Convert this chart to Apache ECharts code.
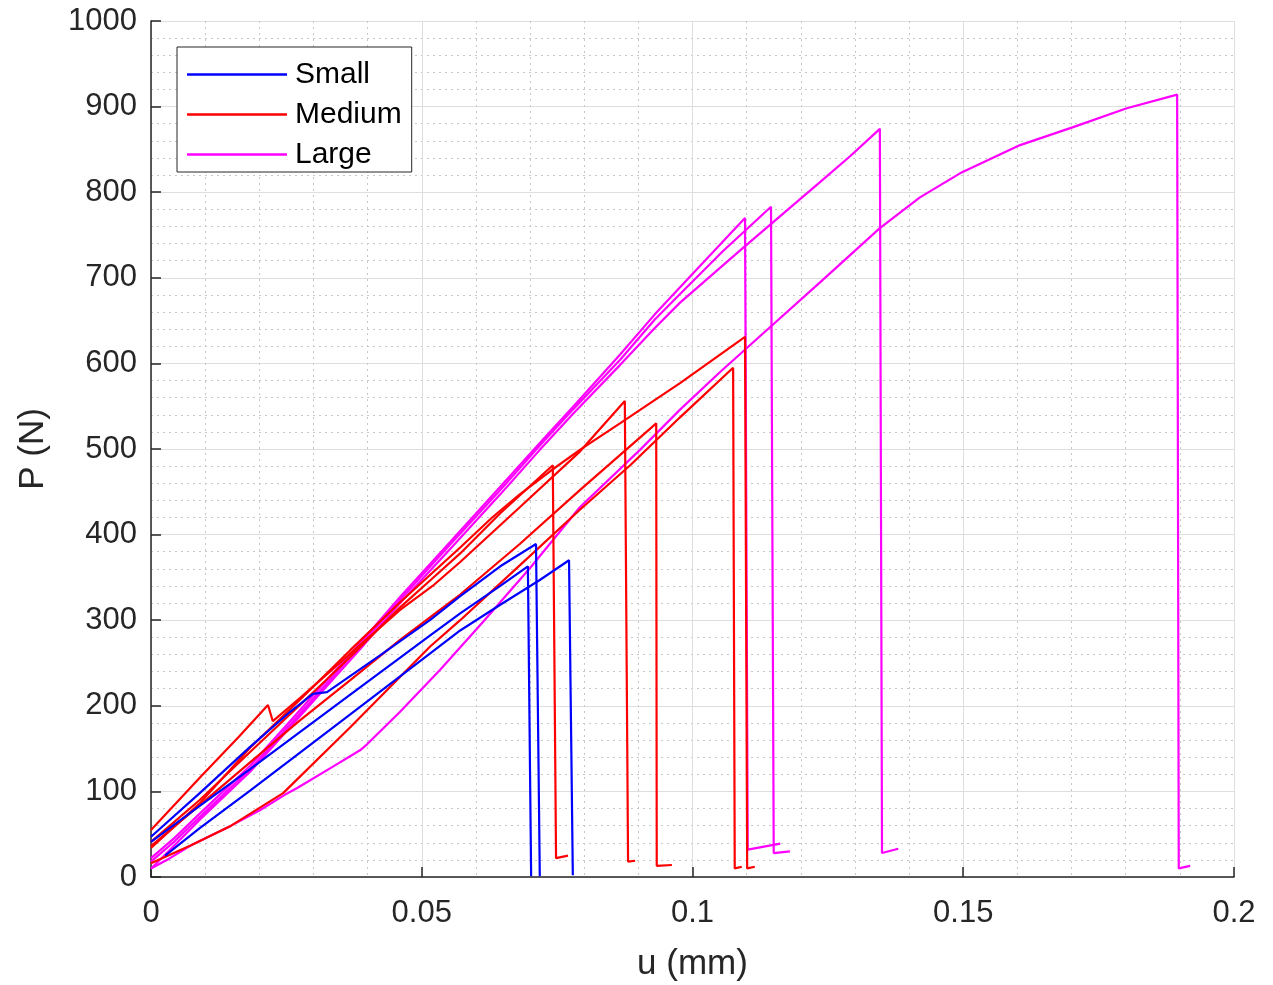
<!DOCTYPE html>
<html>
<head>
<meta charset="utf-8">
<title>P-u curves</title>
<script src="https://cdn.jsdelivr.net/npm/echarts@6/dist/echarts.min.js"></script>
<style>
  html, body { margin: 0; padding: 0; background: #ffffff; }
  #chart { width: 1273px; height: 985px; }
</style>
</head>
<body>
<div id="chart"></div>
<script>
// Load-displacement curves, u (mm) vs P (N), grouped by specimen size.
const groupNames = ['Small', 'Medium', 'Large'];
const groupColors = ['#0000ff', '#ff0000', '#ff00ff'];
const xTickLabels = ['0', '0.05', '0.1', '0.15', '0.2'];
const yTickLabels = ['0', '100', '200', '300', '400', '500', '600', '700', '800', '900', '1000'];

// Small specimens
const small1 = [[0,41],[0.0090,83],[0.0183,126],[0.0368,213],[0.0515,282],[0.0571,308],[0.0645,340],[0.0696,363],[0.0702,1]];
const small2 = [[0,47],[0.0090,98],[0.0183,152],[0.0257,193],[0.0299,214],[0.0325,216],[0.0423,259],[0.0515,300],[0.0571,328],[0.0645,363],[0.0711,389],[0.0718,1]];
const small3 = [[0.0026,25],[0.0090,57],[0.0183,101],[0.0368,190],[0.0515,261],[0.0571,288],[0.0645,318],[0.0718,347],[0.0772,370],[0.0779,2]];

// Medium specimens
const medium1 = [[0,41],[0.0090,90],[0.0183,146],[0.0275,201],[0.0368,257],[0.0460,315],[0.0520,349],[0.0571,378],[0.0645,425],[0.0742,481],[0.0748,22],[0.0770,25]];
const medium2 = [[0,55],[0.0090,116],[0.0164,165],[0.0216,201],[0.0225,182],[0.0275,209],[0.0368,261],[0.0460,312],[0.0520,340],[0.0571,368],[0.0681,432],[0.0792,497],[0.0875,556],[0.0881,18],[0.0894,19]];
const medium3 = [[0,36],[0.0090,84],[0.0183,134],[0.0275,183],[0.0368,230],[0.0460,277],[0.0571,330],[0.0681,389],[0.0792,452],[0.0933,530],[0.0934,13],[0.0962,14]];
const medium4 = [[0,16],[0.0074,37],[0.0148,60],[0.0244,98],[0.0368,175],[0.0515,269],[0.0571,300],[0.0681,364],[0.0792,429],[0.0885,481],[0.0977,537],[0.1075,595],[0.1078,10],[0.1091,12]];
const medium5 = [[0,34],[0.0090,86],[0.0183,151],[0.0275,207],[0.0368,265],[0.0460,321],[0.0571,385],[0.0630,420],[0.0681,447],[0.0737,474],[0.0792,499],[0.0866,530],[0.0977,577],[0.1097,631],[0.1101,10],[0.1115,12]];

// Large specimens
const large1 = [[0,22],[0.0044,46],[0.0090,74],[0.0183,130],[0.0244,173],[0.0312,221],[0.0386,273],[0.0460,327],[0.0552,391],[0.0645,456],[0.0718,507],[0.0779,549],[0.0866,610],[0.0930,657],[0.0977,689],[0.1038,730],[0.1097,770],[0.1102,32],[0.1162,39]];
const large2 = [[0,18],[0.0044,42],[0.0090,70],[0.0183,126],[0.0244,169],[0.0312,217],[0.0386,270],[0.0460,324],[0.0552,388],[0.0645,452],[0.0718,504],[0.0779,546],[0.0866,604],[0.0930,651],[0.0977,681],[0.1056,731],[0.1145,783],[0.1150,28],[0.1180,30]];
const large3 = [[0,10],[0.0026,26],[0.0090,67],[0.0183,123],[0.0244,166],[0.0312,214],[0.0386,266],[0.0460,320],[0.0552,383],[0.0645,447],[0.0718,499],[0.0779,541],[0.0866,598],[0.0930,641],[0.0977,671],[0.1088,732],[0.1162,772],[0.1236,812],[0.1291,842],[0.1346,874],[0.1350,28],[0.1380,33]];
const large4 = [[0,10],[0.0035,22],[0.0074,37],[0.0148,60],[0.0201,78],[0.0247,96],[0.0270,104],[0.0336,129],[0.0386,148],[0.0399,155],[0.0460,193],[0.0534,242],[0.0613,298],[0.0700,361],[0.0792,432],[0.0903,499],[0.0977,546],[0.1051,590],[0.1125,632],[0.1236,695],[0.1346,758],[0.1420,794],[0.1494,822],[0.1605,855],[0.1703,876],[0.1802,898],[0.1895,914],[0.1898,10],[0.1919,13]];

const groups = [
  [small1, small2, small3],
  [medium1, medium2, medium3, medium4, medium5],
  [large1, large2, large3, large4]
];

const font = "'Liberation Sans', Arial, Helvetica, sans-serif";
const axisColor = '#262626';

// Large drawn first so the smaller specimens sit on top
const series = [];
[2, 1, 0].forEach(function (g) {
  groups[g].forEach(function (d) {
    series.push({
      type: 'line',
      name: groupNames[g],
      data: d,
      symbol: 'none',
      showSymbol: false,
      animation: false,
      lineStyle: { color: groupColors[g], width: 2.2 },
      itemStyle: { color: groupColors[g] }
    });
  });
});

function commonAxis() {
  return {
    axisLine: { show: true, onZero: false, lineStyle: { color: axisColor, width: 1.5 } },
    axisTick: { show: true, inside: true, length: 10, lineStyle: { color: axisColor, width: 1.5 } },
    splitLine: { show: true, lineStyle: { color: '#dedede', width: 1 } },
    minorTick: { show: false, splitNumber: 5 },
    minorSplitLine: { show: true, lineStyle: { color: '#c8c8c8', width: 1, type: [2, 4] } }
  };
}

const xAxis = Object.assign(commonAxis(), {
  type: 'value',
  min: 0, max: 0.2, interval: 0.05,
  name: 'u (mm)',
  nameLocation: 'middle',
  nameGap: 70,
  nameTextStyle: { fontFamily: font, fontSize: 35, color: axisColor },
  axisLabel: {
    margin: 21, fontFamily: font, fontSize: 31, color: axisColor,
    formatter: function (v) { return xTickLabels[Math.round(v / 0.05)]; }
  }
});

const yAxis = Object.assign(commonAxis(), {
  type: 'value',
  min: 0, max: 1000, interval: 100,
  name: 'P (N)',
  nameLocation: 'middle',
  nameGap: 100,
  nameRotate: 90,
  nameTextStyle: { fontFamily: font, fontSize: 35, color: axisColor },
  axisLabel: {
    margin: 14, fontFamily: font, fontSize: 31, color: axisColor,
    formatter: function (v) { return yTickLabels[Math.round(v / 100)]; }
  }
});

const chart = echarts.init(document.getElementById('chart'), null, { renderer: 'canvas' });
chart.setOption({
  backgroundColor: '#ffffff',
  animation: false,
  grid: { left: 151, top: 21, width: 1083, height: 856, containLabel: false, outerBoundsMode: 'none' },
  xAxis: xAxis,
  yAxis: yAxis,
  legend: {
    data: groupNames,
    orient: 'vertical',
    left: 177, top: 47,
    padding: [12, 10, 2, 10],
    itemGap: 9,
    itemWidth: 100,
    itemHeight: 2.5,
    icon: 'rect',
    backgroundColor: '#ffffff',
    borderColor: axisColor,
    borderWidth: 1,
    borderRadius: 0,
    selectedMode: false,
    textStyle: { fontFamily: font, fontSize: 30, color: '#000000', lineHeight: 31, padding: [0, 0, 0, 3] }
  },
  series: series
});
</script>
</body>
</html>
